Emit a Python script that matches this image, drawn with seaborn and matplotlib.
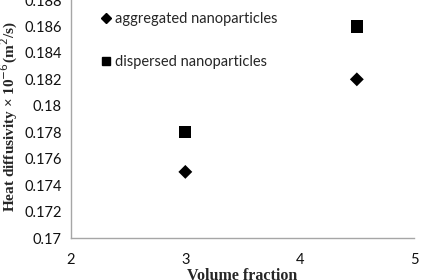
import matplotlib
matplotlib.use("Agg")
import matplotlib.pyplot as plt
import seaborn as sns
import pandas as pd
from matplotlib.lines import Line2D

volume_fraction = [3, 4.5]
aggregated = [0.175, 0.182]
dispersed = [0.178, 0.186]
series_names = ["aggregated nanoparticles", "dispersed nanoparticles"]
x_ticks = [2, 3, 4, 5]
y_ticks = [0.17, 0.172, 0.174, 0.176, 0.178, 0.18, 0.182, 0.184, 0.186, 0.188]
y_tick_labels = ["0.17", "0.172", "0.174", "0.176", "0.178", "0.18", "0.182", "0.184", "0.186", "0.188"]

df = pd.DataFrame({
    "x": volume_fraction * 2,
    "y": aggregated + dispersed,
    "series": [series_names[0]] * len(aggregated) + [series_names[1]] * len(dispersed),
})

sns.set_theme(style="white")
plt.rcParams["font.family"] = ["Lato", "DejaVu Sans"]

fig = plt.figure(figsize=(4.36, 2.80), dpi=100)
ax = fig.add_axes([71 / 436, 1 - 238 / 280, (414 - 71) / 436, 238 / 280])

sns.scatterplot(data=df, x="x", y="y", style="series", hue="series", size="series",
                markers={series_names[0]: "D", series_names[1]: "s"},
                palette={series_names[0]: "black", series_names[1]: "black"},
                sizes={series_names[0]: 50, series_names[1]: 78},
                edgecolor="black", linewidth=0, ax=ax, legend=False)

ax.set_xlim(2, 5)
ax.set_ylim(0.17, 0.188)
ax.set_xticks(x_ticks)
ax.set_xticklabels([str(t) for t in x_ticks])
ax.set_yticks(y_ticks)
ax.set_yticklabels(y_tick_labels)

gray = "#a6a6a6"
for side in ["top", "right"]:
    ax.spines[side].set_visible(False)
for side in ["left", "bottom"]:
    ax.spines[side].set_color(gray)
    ax.spines[side].set_linewidth(1.0)
ax.tick_params(axis="both", which="major", length=3.5, width=1.0, color=gray,
               direction="out", labelsize=10.5, labelcolor="#111111", pad=3)
ax.tick_params(axis="x", pad=7)

ax.set_xlabel("Volume fraction", family="Liberation Serif", fontweight="bold", fontsize=11.5)
ax.xaxis.set_label_coords(0.5, -0.128)
ax.set_ylabel("Heat diffusivity × 10$^{-6}$(m$^{2}$/s)", family="Liberation Serif",
              fontweight="bold", fontsize=11)
ax.yaxis.set_label_coords(-0.148, 0.51)

handles = [Line2D([], [], marker="D", color="black", linestyle="none", markersize=5.5),
           Line2D([], [], marker="s", color="black", linestyle="none", markersize=6)]
ax.legend(handles, series_names, loc="upper left", bbox_to_anchor=(0.048, 1.0),
          frameon=False, fontsize=10.5, handletextpad=0.15, handlelength=0.9,
          labelspacing=1.95, borderaxespad=0.45)

fig.savefig("out.png", dpi=100)
